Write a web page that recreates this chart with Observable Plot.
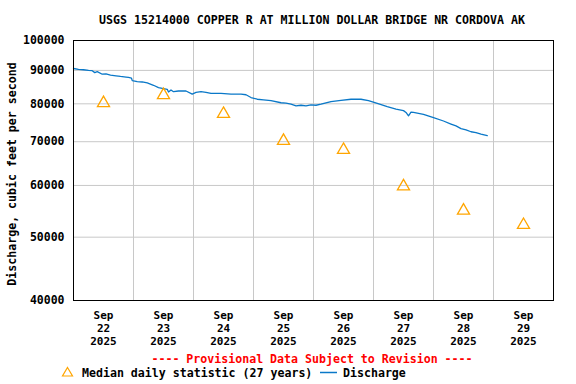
<!DOCTYPE html>
<html>
<head>
<meta charset="utf-8">
<script src="https://cdn.jsdelivr.net/npm/d3@7"></script>
<script src="https://cdn.jsdelivr.net/npm/@observablehq/plot@0.6"></script>
<style>
  html, body { margin: 0; padding: 0; background: #fff; }
  #chart { width: 576px; height: 384px; }
</style>
</head>
<body>
<div id="chart"></div>
<script>
// ---- data ----
const title = "USGS 15214000 COPPER R AT MILLION DOLLAR BRIDGE NR CORDOVA AK";
const yLabel = "Discharge, cubic feet per second";
const provisional = "---- Provisional Data Subject to Revision ----";
const legendMedian = "Median daily statistic (27 years)";
const legendDischarge = "Discharge";

const startDay = "2025-09-22";
// discharge: hours after Sep 22 00:00, value in cfs
const dischargeHours = [0,2,4,6,7.5,8.5,9.5,11.5,13,14.8,17,18.8,21,22,23.2,23.5,25.5,27.5,29.5,32,34,36,37.5,38,39,40,42,45,47.5,49,51,53,55,59,63,67,69,71,73.5,76,79,83,85,87,89,91,93,95,97,99,103,107,111,115,118,121.5,125.5,129,132,133,134,135,136,140,144,148,151,153,155,157,159,161,163,165.5];
const dischargeValues = [90600,90300,90200,90000,89900,89300,89600,88800,88900,88500,88300,88100,87900,87800,87600,86800,86500,86400,86100,85400,84700,84400,84200,83400,84000,83500,83700,83700,82800,83300,83500,83300,83000,83000,82800,82800,82600,81800,81300,81100,80900,80300,80200,79900,79400,79600,79400,79700,79600,79900,80600,81000,81300,81300,80900,80100,79200,78500,78100,77600,76700,77700,77600,77100,76200,75300,74500,74000,73300,73000,72500,72300,71900,71500];

// median daily statistic, one per day (plotted at noon)
const medianDays = ["2025-09-22","2025-09-23","2025-09-24","2025-09-25","2025-09-26","2025-09-27","2025-09-28","2025-09-29"];
const medianValues = [80200,82500,77200,70200,68000,59800,54900,52200];

const yTicks = [40000,50000,60000,70000,80000,90000,100000];

// ---- build tables ----
const t0 = new Date(startDay + "T00:00:00Z");
const HOUR = 3600 * 1000;
const discharge = dischargeHours.map((h, i) => ({date: new Date(+t0 + h * HOUR), value: dischargeValues[i]}));
const medians = medianDays.map((d, i) => ({date: new Date(d + "T12:00:00Z"), value: medianValues[i]}));
const xStart = t0;
const xEnd = new Date(+t0 + 8 * 24 * HOUR);
const midnights = d3.utcDay.range(xStart, new Date(+xEnd + HOUR));
const noons = medianDays.map(d => new Date(d + "T12:00:00Z"));

const font = "'DejaVu Sans Mono', 'Liberation Mono', monospace";
const fmtX = d => `${d3.utcFormat("%b")(d)}\n${d.getUTCDate()}\n${d.getUTCFullYear()}`;

const plot = Plot.plot({
  width: 576,
  height: 384,
  marginLeft: 73,
  marginRight: 23,
  marginTop: 40,
  marginBottom: 84,
  style: {fontFamily: font, fontSize: "11.5px", fontWeight: "bold", background: "#fff", color: "#000"},
  x: {type: "utc", domain: [xStart, xEnd], label: null},
  y: {type: "log", domain: [40000, 100000], label: null},
  marks: [
    Plot.gridX(midnights, {stroke: "#c8c8c8", strokeOpacity: 1, strokeWidth: 1}),
    Plot.gridY(yTicks, {stroke: "#c8c8c8", strokeOpacity: 1, strokeWidth: 1}),
    Plot.axisX(noons, {tickSize: 0, tickPadding: 9, tickFormat: fmtX, fontSize: 11, fontWeight: "bold", lineHeight: 1.18, label: null}),
    Plot.axisY(yTicks, {tickSize: 0, tickPadding: 9, tickFormat: d3.format("d"), fontSize: 11.5, fontWeight: "bold", label: null}),
    Plot.line(discharge, {x: "date", y: "value", stroke: "#0a78c8", strokeWidth: 1.3}),
    Plot.dot(medians, {x: "date", y: "value", symbol: "triangle", r: 4.5, stroke: "#ffa500", strokeWidth: 1.3, fill: "none"}),
    Plot.frame({stroke: "#000", strokeWidth: 1})
  ]
});

document.getElementById("chart").appendChild(plot);

// ---- title, axis label, notes, legend ----
const svg = d3.select(plot);
const g = svg.append("g").attr("font-family", font).attr("font-weight", "bold").attr("font-size", "11.6px");
g.append("text").attr("x", 312).attr("y", 24).attr("text-anchor", "middle").attr("fill", "#000").text(title);
g.append("text").attr("transform", "translate(16,174) rotate(-90)").attr("text-anchor", "middle").attr("fill", "#000").text(yLabel);
g.append("text").attr("x", 312).attr("y", 363).attr("text-anchor", "middle").attr("fill", "#ff0000").text(provisional);
// legend
g.append("path").attr("d", "M67.5,367.5 L72.5,376 L62.5,376 Z").attr("fill", "none").attr("stroke", "#ffa500").attr("stroke-width", 1.2);
g.append("text").attr("x", 82).attr("y", 377).attr("text-anchor", "start").attr("fill", "#000").text(legendMedian);
g.append("line").attr("x1", 320).attr("x2", 337).attr("y1", 372.5).attr("y2", 372.5).attr("stroke", "#0a78c8").attr("stroke-width", 1.5);
g.append("text").attr("x", 343).attr("y", 377).attr("text-anchor", "start").attr("fill", "#000").text(legendDischarge);
</script>
</body>
</html>
